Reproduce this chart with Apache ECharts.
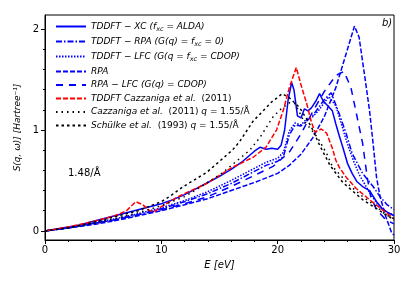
<!DOCTYPE html>
<html><head><meta charset="utf-8">
<script src="https://cdn.jsdelivr.net/npm/echarts@6/dist/echarts.min.js"></script>
<style>html,body{margin:0;padding:0;background:#fff}#c{width:416px;height:288px}</style>
</head><body><div id="c"></div>
<script>
// ---- data (energies in eV, S(q,w) in 1/Hartree) ----
const xcE = [0,1,2,3,4,5,6,7,8,9,10,11,12,13,14,15,16,17,17.5,18,18.5,19,19.5,20,20.3,20.6,20.9,21.2,21.4,21.7,22,22.3,22.6,22.9,23.3,23.6,23.9,24.3,24.7,25,25.3,25.6,26,26.4,26.8,27.3,27.9,28.5,29,29.5,30];
const xcS = [0,0.02,0.04,0.06,0.09,0.12,0.15,0.18,0.21,0.24,0.27,0.31,0.36,0.42,0.48,0.54,0.61,0.69,0.74,0.79,0.83,0.81,0.82,0.81,0.85,1.0,1.3,1.47,1.4,1.14,1.12,1.21,1.19,1.22,1.29,1.36,1.29,1.24,1.19,1.06,0.94,0.83,0.67,0.57,0.49,0.44,0.40,0.29,0.22,0.18,0.15];

const rpaTdE = [0,2,4,6,8,10,12,14,16,18,19,20,20.5,21,21.5,22,22.5,23,23.5,24,24.6,25.2,25.9,26.4,27.3,28.2,28.8,29.4,30];
const rpaTdS = [0,0.03,0.07,0.11,0.16,0.22,0.29,0.37,0.47,0.59,0.65,0.69,0.74,0.95,1.05,1.04,1.09,1.14,1.22,1.30,1.37,1.19,0.96,0.77,0.57,0.44,0.34,0.26,0.21];

const lfcTdE = [0,2,4,6,8,10,12,14,16,18,19,20,20.5,21,21.5,22,22.5,23,23.5,24,24.4,25,25.5,26,26.5,27,27.5,28,28.5,29,29.5,30];
const lfcTdS = [0,0.03,0.08,0.12,0.17,0.23,0.30,0.39,0.50,0.62,0.68,0.72,0.78,0.99,1.07,1.05,1.11,1.13,1.19,1.27,1.33,1.24,1.05,0.86,0.70,0.56,0.46,0.36,0.28,0.21,0.18,0.16];

const rpaE = [0,2,4,6,8,10,12,14,16,18,20,21,22,23,24,25,26,26.6,27,27.5,27.9,28.2,28.5,28.8,29.3,29.8,30];
const rpaS = [0,0.03,0.06,0.10,0.15,0.20,0.26,0.32,0.40,0.48,0.57,0.65,0.76,0.92,1.13,1.42,1.80,2.03,1.92,1.52,1.19,0.87,0.53,0.34,0.14,-0.02,-0.04];

const rpaLfcE = [0,2,4,6,8,10,12,14,16,18,19.6,21,22,23,24,25,25.7,26.3,26.7,27.3,27.7,28,28.5,29.3,30];
const rpaLfcS = [0,0.03,0.07,0.11,0.16,0.21,0.27,0.34,0.44,0.55,0.64,0.78,0.96,1.18,1.38,1.54,1.58,1.42,1.2,0.87,0.53,0.34,0.21,0.11,0.07];

const cazTdE = [0,2,4,6,7,7.8,8.4,9,9.4,10,11.3,12,13.9,16.1,17.9,19,19.9,20.5,21,21.6,22,22.5,22.9,23.2,23.75,24.2,24.7,25,25.3,25.9,26.75,27.9,29,30];
const cazTdS = [0,0.04,0.09,0.15,0.20,0.29,0.26,0.20,0.19,0.24,0.33,0.37,0.47,0.63,0.73,0.83,1.0,1.2,1.42,1.62,1.45,1.26,1.08,0.98,1.01,0.97,0.82,0.70,0.63,0.53,0.42,0.31,0.21,0.12];

const cazExpE = [0,2,4,6,8,10,12,13.3,15.3,17.6,18.5,19.6,20.2,21,21.5,22.2,23.4,24.2,24.7,26.2,27.3,28.5,29.3,30];
const cazExpS = [0,0.03,0.07,0.12,0.18,0.25,0.34,0.43,0.58,0.80,0.93,1.13,1.20,1.27,1.26,1.10,0.93,0.77,0.64,0.45,0.34,0.24,0.16,0.12];

const schE = [0,2,4,6,8,10,10.7,11.9,13.9,16.1,16.7,17.9,18.5,19.5,20.4,21,21.9,22.9,23.6,24.5,25.6,27.3,28.5,30];
const schS = [0,0.03,0.08,0.14,0.20,0.29,0.34,0.44,0.58,0.80,0.88,1.09,1.16,1.28,1.36,1.32,1.22,1.03,0.85,0.65,0.48,0.31,0.22,0.11];

const xTicks = [0,10,20,30];
const yTicks = [0,1,2];
const yMinor = [0.2,0.4,0.6,0.8,1.2,1.4,1.6,1.8];

const names = [
  'TDDFT − XC (fxc = ALDA)',
  'TDDFT − RPA (G(q) = fxc = 0)',
  'TDDFT − LFC (G(q = fxc = CDOP)',
  'RPA',
  'RPA − LFC (G(q) = CDOP)',
  'TDDFT Cazzaniga et al. (2011)',
  'Cazzaniga et al. (2011) q = 1.55/Å',
  'Schülke et al. (1993) q = 1.55/Å'
];
const richNames = {
  [names[0]]: '{i|TDDFT − XC (f}{s|xc}{i| = ALDA)}',
  [names[1]]: '{i|TDDFT − RPA (G(q) = f}{s|xc}{i| = 0)}',
  [names[2]]: '{i|TDDFT − LFC (G(q = f}{s|xc}{i| = CDOP)}',
  [names[3]]: '{i|RPA}',
  [names[4]]: '{i|RPA − LFC (G(q) = CDOP)}',
  [names[5]]: '{i|TDDFT Cazzaniga et al.}{n|  (2011)}',
  [names[6]]: '{i|Cazzaniga et al.}{n|  (2011) }{i|q}{n| = 1.55/Å}',
  [names[7]]: '{i|Schülke et al.}{n|  (1993) }{i|q}{n| = 1.55/Å}'
};

const zip = (a, b) => a.map((v, i) => [v, b[i]]);
const BLUE = '#0000ff', RED = '#ff0000', BLACK = '#000000';
function mk(name, E, S, color, type, w) {
  return {
    name, type: 'line', data: zip(E, S), symbol: 'none', showSymbol: false,
    smooth: false, animation: false, clip: true,
    lineStyle: { color, width: w || 1.5, type },
    itemStyle: { color },
    z: 3
  };
}

const chart = echarts.init(document.getElementById('c'), null, { renderer: 'canvas' });
const FF = 'DejaVu Sans';
chart.setOption({
  animation: false,
  backgroundColor: '#fff',
  grid: { left: 45, right: 22, top: 15, bottom: 48, show: true, borderColor: '#000', borderWidth: 1, backgroundColor: 'transparent' },
  legend: {
    orient: 'vertical', left: 50, top: 17, itemWidth: 30, itemHeight: 10, itemGap: 4.5,
    data: names,
    itemStyle: { opacity: 0 },
    formatter: n => richNames[n],
    textStyle: {
      fontFamily: FF, fontSize: 9, color: '#000',
      rich: {
        i: { fontFamily: FF, fontSize: 9, fontStyle: 'italic', color: '#000' },
        n: { fontFamily: FF, fontSize: 9, color: '#000' },
        s: { fontFamily: FF, fontSize: 6.5, fontStyle: 'italic', color: '#000', padding: [5, 0, 0, 0] }
      }
    }
  },
  xAxis: {
    type: 'value', min: 0, max: 30, interval: 10,
    name: 'E [eV]', nameLocation: 'middle', nameGap: 20,
    nameTextStyle: { fontFamily: FF, fontSize: 10, color: '#000', fontStyle: 'italic' },
    axisLine: { onZero: false, lineStyle: { color: '#000', width: 1 } },
    axisTick: { show: true, length: 4, inside: false, lineStyle: { color: '#000' } },
    minorTick: { show: true, splitNumber: 5, length: 2, lineStyle: { color: '#000' } },
    splitLine: { show: false },
    axisLabel: { fontFamily: FF, fontSize: 10, color: '#000', margin: 5,
      customValues: xTicks }
  },
  yAxis: [{
    type: 'value', min: -0.09, max: 2.14,
    name: 'S(q, ω)] [Hartree⁻¹]', nameLocation: 'middle', nameGap: 22,
    nameTextStyle: { fontFamily: FF, fontSize: 9, fontStyle: 'italic', color: '#000' },
    axisLine: { onZero: false, lineStyle: { color: '#000', width: 1 } },
    axisTick: { show: true, length: 4, customValues: yTicks, lineStyle: { color: '#000' } },
    axisLabel: { fontFamily: FF, fontSize: 10, color: '#000', margin: 6, customValues: yTicks },
    splitLine: { show: false }
  }, {
    type: 'value', min: -0.09, max: 2.14, position: 'left',
    axisLine: { show: false },
    axisTick: { show: true, length: 2, customValues: yMinor, lineStyle: { color: '#000' } },
    axisLabel: { show: false },
    splitLine: { show: false }
  }],
  graphic: [
    { type: 'text', left: 68, top: 168, style: { text: '1.48/Å', fontFamily: FF, fontSize: 10, fill: '#000' } },
    { type: 'text', left: 382, top: 18, style: { text: 'b)', fontFamily: FF, fontSize: 10, fontStyle: 'italic', fill: '#000' } }
  ],
  series: [
    mk(names[0], xcE, xcS, BLUE, 'solid'),
    mk(names[1], rpaTdE, rpaTdS, BLUE, [6, 2, 1.5, 2]),
    mk(names[2], lfcTdE, lfcTdS, BLUE, [1.5, 1.5]),
    mk(names[3], rpaE, rpaS, BLUE, [5, 2]),
    mk(names[4], rpaLfcE, rpaLfcS, BLUE, [7, 6]),
    mk(names[5], cazTdE, cazTdS, RED, [5, 2]),
    mk(names[6], cazExpE, cazExpS, BLACK, [1.5, 4]),
    mk(names[7], schE, schS, BLACK, [2.5, 3])
  ]
});
</script></body></html>
